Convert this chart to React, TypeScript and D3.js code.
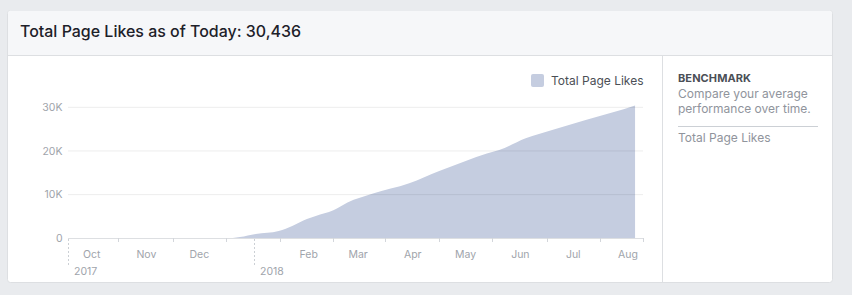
import React from "react";
import * as d3 from "d3";

const dates = ["2017-09-18","2017-12-16","2017-12-24","2018-01-02","2018-01-15","2018-01-23","2018-01-31","2018-02-05","2018-02-15","2018-02-23","2018-03-09","2018-03-30","2018-04-16","2018-05-01","2018-05-13","2018-05-20","2018-06-04","2018-06-19","2018-07-08","2018-07-23","2018-08-05"];
const likes = [0,0,300,1000,1700,2900,4400,5100,6400,8200,10200,12600,15400,17700,19400,20200,22900,24800,27100,28800,30436];
const monthStarts = ["2017-10-01","2017-11-01","2017-12-01","2018-02-01","2018-03-01","2018-04-01","2018-05-01","2018-06-01","2018-07-01","2018-08-01"];
const monthLabels = ["Oct","Nov","Dec","Feb","Mar","Apr","May","Jun","Jul","Aug"];
const tickDates = ["2017-10-16","2017-11-16","2017-12-16","2018-01-16","2018-02-15","2018-03-16","2018-04-16","2018-05-16","2018-06-16","2018-07-16"];
const yearDates = ["2017-09-17T14:00","2018-01-01"];
const yearLabels = ["2017","2018"];
const yTicks = [0, 10000, 20000, 30000];
const yLabels = ["0", "10K", "20K", "30K"];
const domainStart = "2017-09-17T14:00";
const domainEnd = "2018-08-09T12:00";

const FONT = "Inter, 'Liberation Sans', Helvetica, Arial, sans-serif";

export default function App() {
  const parse = (s: string) => new Date(s.length > 10 ? s : s + "T00:00");
  const x = d3.scaleTime().domain([parse(domainStart), parse(domainEnd)]).range([68, 643]);
  const y = d3.scaleLinear().domain([0, 30000]).range([238.3, 107.3]);
  const pts = dates.map((d, i) => ({ d: parse(d), v: likes[i] }));
  const area = d3.area<{ d: Date; v: number }>()
    .x((p) => x(p.d))
    .y0(y(0))
    .y1((p) => y(p.v))
    .curve(d3.curveMonotoneX);

  return (
    <svg width={852} height={295} style={{ position: "absolute", left: 0, top: 0 }} fontFamily={FONT}>
      <rect x={0} y={0} width={852} height={295} fill="#e9ebee" />
      <rect x={7.5} y={10.5} width={825} height={272} rx={3} fill="#fff" stroke="#dddfe2" />
      <path d="M8,55 V13.5 a3,3 0 0 1 3,-3 H829 a3,3 0 0 1 3,3 V55 Z" fill="#f6f7f9" />
      <line x1={8} x2={832} y1={55.5} y2={55.5} stroke="#dddfe2" />
      <text x={20} y={37} fontSize={16} fontWeight={500} fill="#1d2129" textLength={281} lengthAdjust="spacingAndGlyphs">Total Page Likes as of Today: 30,436</text>

      {/* right panel */}
      <line x1={662.5} x2={662.5} y1={56} y2={282} stroke="#dddfe2" />
      <text x={678} y={82.3} fontSize={11} fontWeight={700} fill="#4b4f56" textLength={73}>BENCHMARK</text>
      <text x={678} y={97.7} fontSize={12} fill="#90949c">Compare your average</text>
      <text x={678} y={113.3} fontSize={12} fill="#90949c">performance over time.</text>
      <line x1={678} x2={818} y1={126.5} y2={126.5} stroke="#ccd0d5" />
      <text x={678} y={141.7} fontSize={12} fill="#90949c">Total Page Likes</text>

      {/* legend */}
      <rect x={531} y={74} width={13} height={13} rx={2} fill="#c5cde0" />
      <text x={551} y={84.5} fontSize={12} fill="#4b4f56">Total Page Likes</text>

      {/* area */}
      <path d={area(pts) || ""} fill="#c5cde0" />

      {/* grid */}
      {yTicks.slice(1).map((t) => (
        <line key={t} x1={68} x2={643} y1={y(t)} y2={y(t)} stroke="rgba(0,0,0,0.075)" />
      ))}
      {yTicks.map((t, i) => (
        <text key={"yl" + t} x={62.5} y={y(t) + 3.8} fontSize={10.5} fill="#a0a4ab" textAnchor="end">{yLabels[i]}</text>
      ))}

      {/* x axis */}
      <line x1={68} x2={644} y1={238.5} y2={238.5} stroke="#dddfe2" />
      {tickDates.map((t) => (
        <line key={t} x1={Math.round(x(parse(t))) + 0.5} x2={Math.round(x(parse(t))) + 0.5} y1={238} y2={242} stroke="#d3d6db" />
      ))}
      <line x1={643.5} x2={643.5} y1={238} y2={242} stroke="#d3d6db" />
      {monthStarts.map((m, i) => (
        <text key={m} x={x(parse(m))} y={258} fontSize={10.5} fill="#a0a4ab" textAnchor="middle">{monthLabels[i]}</text>
      ))}
      {yearDates.map((yd, i) => {
        const xx = Math.round(x(parse(yd))) + 0.5;
        return (
          <g key={yd}>
            <line x1={xx} x2={xx} y1={239} y2={266} stroke="#ccd0d5" strokeDasharray="2,2" />
            <text x={xx + 5.5} y={275} fontSize={10.5} fill="#a0a4ab">{yearLabels[i]}</text>
          </g>
        );
      })}
    </svg>
  );
}
